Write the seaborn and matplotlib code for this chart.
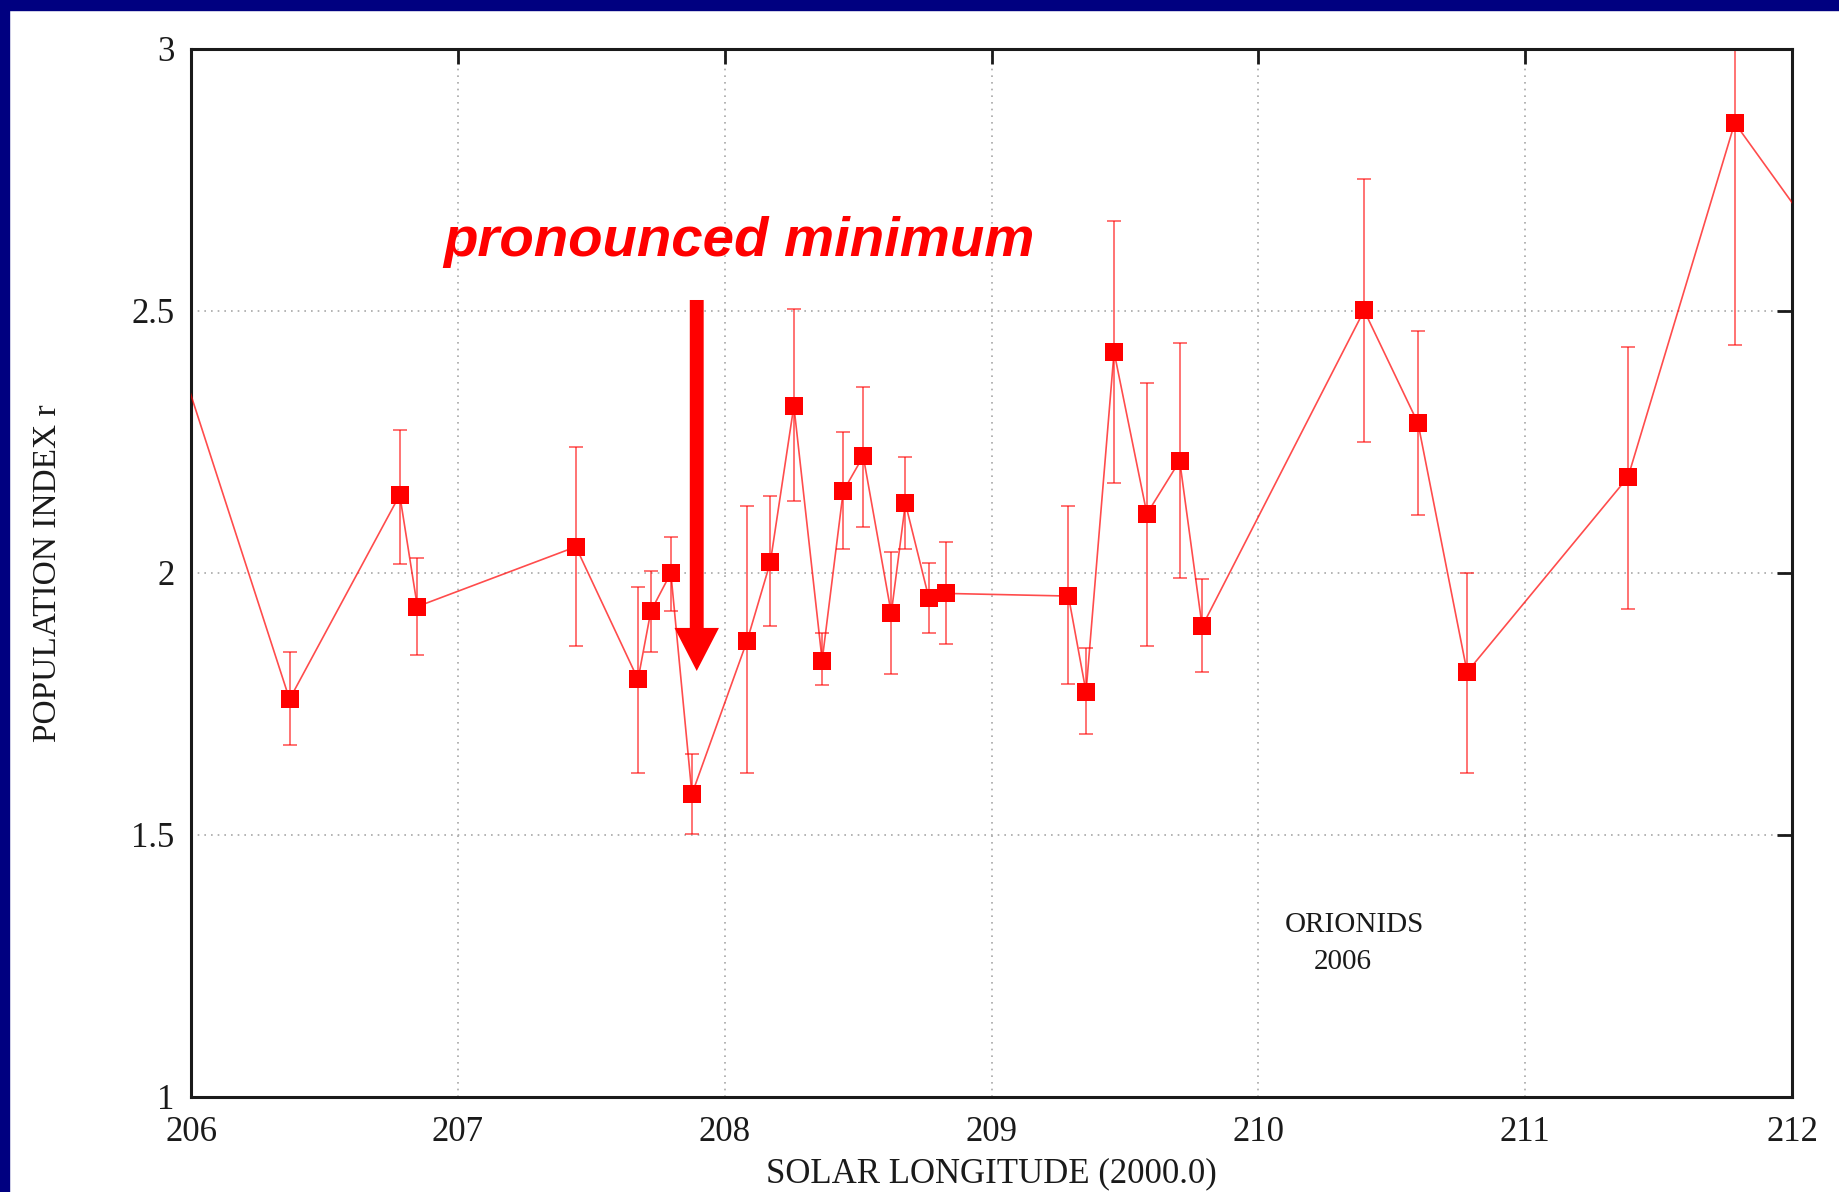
import numpy as np
import pandas as pd
import matplotlib
matplotlib.use("Agg")
import matplotlib.pyplot as plt
from matplotlib.patches import FancyArrowPatch, Rectangle
import seaborn as sns

# ---- data ----
solar_longitude = [205.90, 206.369, 206.782, 206.848, 207.442, 207.675, 207.723, 207.798,
                   207.877, 208.084, 208.171, 208.259, 208.365, 208.444, 208.519, 208.624,
                   208.677, 208.765, 208.831, 209.288, 209.354, 209.459, 209.582, 209.705,
                   209.789, 210.396, 210.598, 210.782, 211.385, 211.785, 212.10]
population_index = [2.496, 1.759, 2.149, 1.936, 2.050, 1.797, 1.927, 2.000,
                    1.578, 1.871, 2.021, 2.319, 1.833, 2.156, 2.223, 1.923,
                    2.133, 1.952, 1.961, 1.956, 1.773, 2.422, 2.113, 2.214,
                    1.898, 2.501, 2.286, 1.811, 2.183, 2.859, 2.636]
err_upper = [np.nan, 1.849, 2.272, 2.028, 2.241, 1.974, 2.003, 2.068,
             1.654, 2.127, 2.147, 2.503, 1.885, 2.270, 2.355, 2.041,
             2.221, 2.019, 2.059, 2.127, 1.856, 2.671, 2.362, 2.438,
             1.988, 2.751, 2.462, 2.000, 2.431, 3.282, np.nan]
err_lower = [np.nan, 1.672, 2.017, 1.844, 1.860, 1.618, 1.849, 1.927,
             1.502, 1.618, 1.898, 2.138, 1.786, 2.046, 2.088, 1.808,
             2.046, 1.885, 1.864, 1.788, 1.692, 2.171, 1.860, 1.990,
             1.811, 2.250, 2.111, 1.618, 1.932, 2.436, np.nan]
x_ticks = [206, 207, 208, 209, 210, 211, 212]
y_ticks = [1, 1.5, 2, 2.5, 3]
y_tick_labels = ["1", "1.5", "2", "2.5", "3"]
x_label = "SOLAR LONGITUDE (2000.0)"
y_label = "POPULATION INDEX r"
annotation_text = "pronounced minimum"
shower_name = "ORIONIDS"
shower_year = "2006"
arrow_x = 207.895
arrow_from_y = 2.521
arrow_to_y = 1.813

df = pd.DataFrame({"lon": solar_longitude, "r": population_index,
                   "hi": err_upper, "lo": err_lower})

# ---- style ----
sns.set_style("white")
plt.rcParams["font.family"] = ["Liberation Serif", "DejaVu Serif"]

fig = plt.figure(figsize=(18.39, 11.92), dpi=100)
fig.patch.set_facecolor("white")
ax = fig.add_axes([0.1039, 0.0797, 0.8706, 0.8792])

red = "#ff0000"

# error bars
yerr = np.vstack([df["r"] - df["lo"], df["hi"] - df["r"]])
ax.errorbar(df["lon"], df["r"], yerr=yerr, fmt="none", ecolor=red, alpha=0.55,
            elinewidth=1.4, capsize=5, capthick=1.4, zorder=2)

# line + markers
sns.lineplot(data=df, x="lon", y="r", sort=False, estimator=None, ax=ax,
             color=red, linewidth=1.2, alpha=0.7, zorder=3)
sns.scatterplot(data=df, x="lon", y="r", ax=ax, marker="s", s=160, color=red,
                edgecolor=red, linewidth=0, zorder=4)

ax.set_xlim(206, 212)
ax.set_ylim(1, 3)
ax.set_xticks(x_ticks)
ax.set_yticks(y_ticks)
ax.set_yticklabels(y_tick_labels)

ax.grid(True, color="#a8a8a8", linestyle=(0, (1, 3)), linewidth=1.2)
ax.set_axisbelow(True)

for s in ax.spines.values():
    s.set_visible(True)
    s.set_color("#1a1a1a")
    s.set_linewidth(2.2)

ax.tick_params(axis="both", which="major", direction="in", length=11, width=2,
               top=True, right=True, labelsize=25, colors="#1a1a1a")
ax.tick_params(axis="x", pad=14)
ax.tick_params(axis="y", pad=12)

ax.set_xlabel(x_label, fontsize=25, color="#1a1a1a")
ax.set_ylabel(y_label, fontsize=24, color="#1a1a1a")
ax.xaxis.set_label_coords(0.5, -0.058)
ax.yaxis.set_label_coords(-0.080, 0.5)

# annotation text
ax.text(206.945, 2.604, annotation_text, color=red, fontsize=40.6,
        fontweight="bold", fontstyle="italic", family=["Liberation Sans", "DejaVu Sans"],
        ha="left", va="baseline", zorder=5)

# arrow
arrow = FancyArrowPatch((arrow_x, arrow_from_y), (arrow_x, arrow_to_y),
                        arrowstyle="simple,tail_width=10,head_width=32,head_length=31",
                        mutation_scale=1, color=red, linewidth=0,
                        shrinkA=0, shrinkB=0, zorder=5)
ax.add_patch(arrow)

# shower label
ax.text(210.097, 1.329, shower_name, fontsize=21, color="#1a1a1a",
        ha="left", va="center")
ax.text(210.207, 1.258, shower_year, fontsize=21, color="#1a1a1a",
        ha="left", va="center")

# navy frame (left & top)
fig.patches.append(Rectangle((0, 0), 9 / 1839, 1, transform=fig.transFigure,
                             color="#000080", zorder=10))
fig.patches.append(Rectangle((0, 1 - 10 / 1192), 1, 10 / 1192, transform=fig.transFigure,
                             color="#000080", zorder=10))

fig.savefig("out.png", dpi=100)
